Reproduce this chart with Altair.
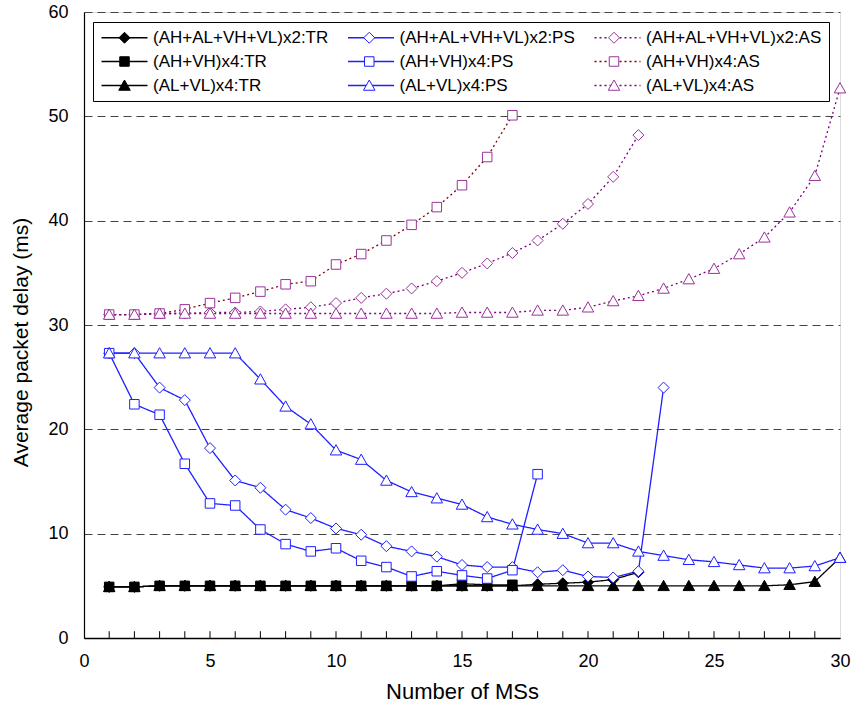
import altair as alt
import pandas as pd

FONT = "Liberation Sans"

# ---------------- data ----------------
# legend entries are laid out column by column: TR column, PS column, AS column
series_order = [
    "(AH+AL+VH+VL)x2:TR", "(AH+VH)x4:TR", "(AL+VL)x4:TR",
    "(AH+AL+VH+VL)x2:PS", "(AH+VH)x4:PS", "(AL+VL)x4:PS",
    "(AH+AL+VH+VL)x2:AS", "(AH+VH)x4:AS", "(AL+VL)x4:AS",
]

# TR series
x2_tr = [4.9, 4.9, 5.0, 5.0, 5.0, 5.0, 5.0, 5.0, 5.0, 5.0, 5.0, 5.0, 5.0, 5.0, 5.0,
         5.0, 5.0, 5.15, 5.25, 5.35, 5.6, 6.3]
ahvh_tr = [4.9, 4.9, 5.0, 5.0, 5.0, 5.0, 5.0, 5.0, 5.0, 5.0, 5.0, 5.0, 5.0, 5.0, 5.2,
           5.1, 5.1]
alvl_tr = [4.9, 4.9, 5.0, 5.0, 5.0, 5.0, 5.0, 5.0, 5.0, 5.0, 5.0, 5.0, 5.0, 5.0, 5.0,
           5.0, 5.0, 5.0, 5.0, 5.0, 5.0, 5.0, 5.0, 5.0, 5.0, 5.0, 5.0, 5.1, 5.4, 7.7]

# PS series
x2_ps = [27.3, 27.3, 24.0, 22.8, 18.2, 15.1, 14.4, 12.3, 11.5, 10.5, 9.9, 8.8, 8.3,
         7.8, 7.0, 6.8, 6.8, 6.3, 6.5, 5.9, 5.8, 6.4, 24.0]
ahvh_ps = [27.3, 22.4, 21.4, 16.7, 12.9, 12.7, 10.4, 9.0, 8.3, 8.6, 7.4, 6.8, 5.9,
           6.4, 6.0, 5.7, 6.5, 15.7]
alvl_ps = [27.3, 27.3, 27.3, 27.3, 27.3, 27.3, 24.8, 22.2, 20.5, 18.0, 17.1, 15.1,
           14.0, 13.4, 12.8, 11.6, 10.9, 10.4, 10.0, 9.1, 9.1, 8.3, 7.9, 7.5, 7.3,
           7.0, 6.7, 6.7, 6.9, 7.7]

# AS series
x2_as = [31.0, 31.0, 31.1, 31.1, 31.2, 31.2, 31.3, 31.5, 31.7, 32.1, 32.6, 33.0,
         33.5, 34.2, 35.0, 35.9, 36.9, 38.1, 39.7, 41.6, 44.2, 48.2]
ahvh_as = [31.0, 31.0, 31.1, 31.5, 32.1, 32.6, 33.2, 33.9, 34.2, 35.8, 36.8, 38.1,
           39.6, 41.3, 43.4, 46.1, 50.1]
alvl_as = [31.0, 31.0, 31.1, 31.1, 31.1, 31.1, 31.1, 31.1, 31.1, 31.1, 31.1, 31.1,
           31.1, 31.1, 31.2, 31.2, 31.2, 31.4, 31.4, 31.7, 32.3, 32.8, 33.5, 34.4,
           35.4, 36.8, 38.4, 40.8, 44.3, 52.7]

series_values = {
    "(AH+AL+VH+VL)x2:TR": x2_tr,
    "(AH+VH)x4:TR": ahvh_tr,
    "(AL+VL)x4:TR": alvl_tr,
    "(AH+AL+VH+VL)x2:PS": x2_ps,
    "(AH+VH)x4:PS": ahvh_ps,
    "(AL+VL)x4:PS": alvl_ps,
    "(AH+AL+VH+VL)x2:AS": x2_as,
    "(AH+VH)x4:AS": ahvh_as,
    "(AL+VL)x4:AS": alvl_as,
}

x_ticks_inner = list(range(1, 30))
x_label_values = [0, 5, 10, 15, 20, 25, 30]
y_label_values = [0, 10, 20, 30, 40, 50, 60]

# ---------------- styles (same order as series_order) ----------------
BLUE = "#1f1fff"
MAG = "#993399"
line_colors = ["#000000", "#000000", "#000000",
               BLUE, BLUE, BLUE,
               "#800080", "#800000", "#800080"]
line_dashes = [[1, 0], [1, 0], [1, 0],
               [1, 0], [1, 0], [1, 0],
               [2, 3], [2, 3], [2, 3]]

EXT = "M-4.6,0M4.6,0"
DIAMOND = EXT + "M0,-1.1L1.1,0L0,1.1L-1.1,0Z"
SQUARE = EXT + "M-0.95,-0.95L0.95,-0.95L0.95,0.95L-0.95,0.95Z"
TRIANGLE = EXT + "M0,-1.1L1.15,0.95L-1.15,0.95Z"
marker_shapes = [DIAMOND, SQUARE, TRIANGLE,
                 DIAMOND, SQUARE, TRIANGLE,
                 DIAMOND, SQUARE, TRIANGLE]
marker_strokes = ["#000000", "#000000", "#000000",
                  BLUE, BLUE, BLUE,
                  MAG, MAG, MAG]
marker_fills = ["#000000", "#000000", "#000000",
                "#ffffff", "#ffffff", "#ffffff",
                "#ffffff", "#ffffff", "#ffffff"]

# the line layer keys its own legend with a trailing space so that Vega-Lite
# keeps the line legend and the marker legend apart (labels are trimmed)
line_keys = [s + " " for s in series_order]

rows = []
for name, lkey in zip(series_order, line_keys):
    for i, v in enumerate(series_values[name]):
        rows.append({"line_series": lkey, "marker_series": name, "x": i + 1, "y": v})
df = pd.DataFrame(rows)

ticks_df = pd.DataFrame({"x": x_ticks_inner})

# ---------------- axes / legends ----------------
x_axis = alt.Axis(values=x_label_values, grid=False, ticks=False, tickSize=0,
                  labelFlush=False,
                  labelPadding=14, labelFont=FONT, labelFontSize=18,
                  labelColor="black", domainColor="black", domainWidth=1.5,
                  title="Number of MSs", titleFont=FONT, titleFontSize=22,
                  titleFontWeight="normal", titleColor="black",
                  titleY=60, titleBaseline="alphabetic")
y_axis = alt.Axis(values=y_label_values, grid=True, gridDash=[8, 5],
                  gridColor="#444444", gridWidth=1.2, ticks=False, tickSize=0,
                  labelFlush=False,
                  labelPadding=16, labelFont=FONT, labelFontSize=18,
                  labelColor="black", domainColor="black", domainWidth=1.2,
                  title="Average packet delay (ms)", titleFont=FONT,
                  titleFontSize=21, titleFontWeight="normal", titleColor="black",
                  titleX=-57, titleY=330, titleAngle=270,
                  titleBaseline="alphabetic", titleAlign="center")

common = dict(orient="none", legendX=9, legendY=10, columns=3,
              rowPadding=6, padding=7, labelOffset=20, symbolOffset=16,
              symbolSize=100, labelFont=FONT, labelFontSize=17,
              labelColor="black", title=None, labelLimit=400)
# line legend: carries the labels and the frame
leg_lines = alt.Legend(symbolType="M-4.6,0L4.6,0", symbolStrokeWidth=1.3,
                       labelExpr="trim(datum.label)", strokeColor="black",
                       columnPadding=15.5, **common)
# marker legend: same grid, markers only (labels left empty)
leg_marks = alt.Legend(symbolStrokeWidth=1, labelExpr="''",
                       columnPadding=190.75, **common)

xs = alt.Scale(domain=[0, 30], nice=False, zero=False)
ys = alt.Scale(domain=[0, 60], nice=False)

lines = alt.Chart(df).mark_line(strokeWidth=1.3).encode(
    x=alt.X("x:Q", scale=xs, axis=x_axis),
    y=alt.Y("y:Q", scale=ys, axis=y_axis),
    color=alt.Color("line_series:N",
                    scale=alt.Scale(domain=line_keys, range=line_colors),
                    legend=leg_lines),
    strokeDash=alt.StrokeDash("line_series:N",
                              scale=alt.Scale(domain=line_keys, range=line_dashes),
                              legend=leg_lines),
    order="x:Q",
)

points = alt.Chart(df).mark_point(filled=True, size=100, opacity=1,
                                  strokeWidth=1).encode(
    x=alt.X("x:Q", scale=xs, axis=x_axis),
    y=alt.Y("y:Q", scale=ys, axis=y_axis),
    shape=alt.Shape("marker_series:N",
                    scale=alt.Scale(domain=series_order, range=marker_shapes),
                    legend=leg_marks),
    stroke=alt.Stroke("marker_series:N",
                      scale=alt.Scale(domain=series_order, range=marker_strokes),
                      legend=leg_marks),
    fill=alt.Fill("marker_series:N",
                  scale=alt.Scale(domain=series_order, range=marker_fills),
                  legend=leg_marks),
)

inner_ticks = alt.Chart(ticks_df).mark_rule(color="black", strokeWidth=1).encode(
    x=alt.X("x:Q", scale=xs, axis=x_axis),
    y=alt.datum(0, scale=ys),
    y2=alt.datum(0.65),
)

chart = alt.layer(inner_ticks, lines, points).properties(
    width=756, height=626,
    autosize=alt.AutoSizeParams(type="none"),
    padding={"left": 84, "top": 12, "right": 13, "bottom": 64},
).configure_view(stroke="#555555", strokeWidth=1.5).configure(
    background="white"
)

chart.save("out.html", embed_options={"renderer": "svg", "actions": False})
